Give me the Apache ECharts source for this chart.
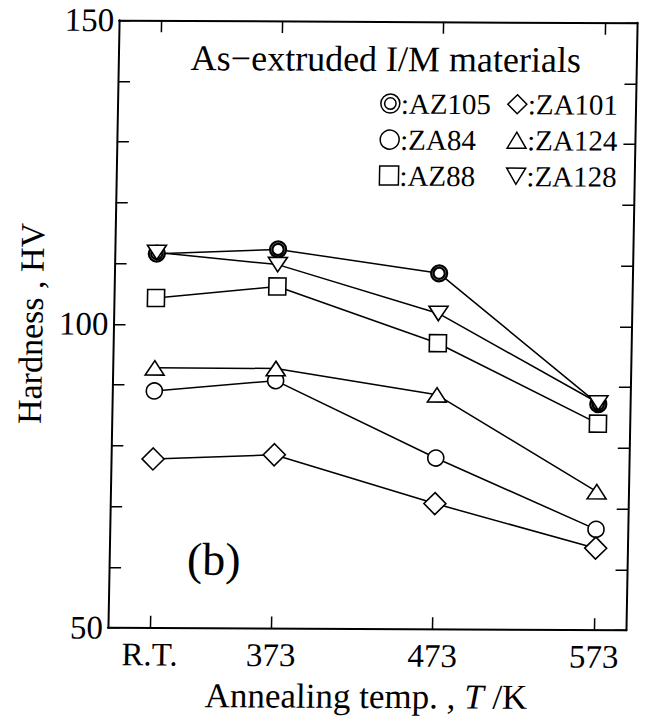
<!DOCTYPE html>
<html>
<head>
<meta charset="utf-8">
<script src="https://cdn.jsdelivr.net/npm/echarts@6/dist/echarts.min.js"></script>
<style>
  html, body { margin: 0; padding: 0; background: #fff; }
  #chart { width: 645px; height: 719px; transform: skew(-1.05deg, 0.3deg); transform-origin: 373px 327px; }
</style>
</head>
<body>
<div id="chart"></div>
<script>
// ---- data ----
const tempValues = [298, 373, 473, 573];
const tickLabels = ['R.T.', '373', '473', '573'];
const yLabelValues = [50, 100, 150];
const AZ105 = [111.6, 112.4, 108.6, 87.2];
const ZA84  = [89.0, 90.8, 78.2, 66.6];
const AZ88  = [104.3, 106.3, 97.1, 84.0];
const ZA101 = [77.8, 78.6, 70.7, 63.5];
const ZA124 = [92.8, 92.8, 88.6, 72.8];
const ZA128 = [111.8, 109.9, 102.0, 87.4];

const FONT = '"Liberation Serif", "Times New Roman", serif';
const pair = (arr) => tempValues.map((t, i) => [t, arr[i]]);

const SYM = {
  AZ105: {symbol: 'path://M0,-10A10,10 0 1 1 0,10A10,10 0 1 1 0,-10ZM0,-7A7,7 0 1 1 0,7A7,7 0 1 1 0,-7Z', size: 16},
  ZA84:  {symbol: 'circle', size: 16},
  AZ88:  {symbol: 'rect', size: 17},
  ZA101: {symbol: 'diamond', size: 22},
  ZA124: {symbol: 'path://M0,0L10,-17L20,0Z', size: [19, 17]},
  ZA128: {symbol: 'path://M0,0L20,0L10,17Z', size: [19, 17]}
};
const LEG_ICON = {
  AZ105: 'path://M0,-10A10,10 0 1 1 0,10A10,10 0 1 1 0,-10ZM0,-6A6,6 0 1 1 0,6A6,6 0 1 1 0,-6Z',
  ZA84: 'circle', AZ88: 'rect', ZA101: 'diamond',
  ZA124: 'path://M0,0L10,-17L20,0Z', ZA128: 'path://M0,0L20,0L10,17Z'
};
const seriesData = {AZ105, ZA84, AZ88, ZA101, ZA124, ZA128};
const drawOrder = ['AZ105', 'ZA128', 'AZ88', 'ZA84', 'ZA124', 'ZA101'];

const series = drawOrder.map(name => ({
  name,
  type: 'line',
  data: pair(seriesData[name]),
  symbol: SYM[name].symbol,
  symbolSize: SYM[name].size,
  symbolKeepAspect: true,
  showAllSymbol: true,
  lineStyle: {color: '#000', width: 1.5},
  itemStyle: {color: '#fff', borderColor: '#000', borderWidth: name === 'AZ105' ? 2.2 : 1.6},
  emphasis: {disabled: true},
  xAxisIndex: 0, yAxisIndex: 0
}));

const legendCommon = {
  orient: 'vertical',
  itemWidth: 19, itemHeight: 19, itemGap: 7,
  selectedMode: false,
  formatter: n => ':' + n,
  textStyle: {fontFamily: FONT, fontSize: 29, color: '#000', lineHeight: 28, padding: [0, 0, 0, -4]},
  itemStyle: {color: '#fff', borderColor: '#000', borderWidth: 1.5},
  padding: 0
};
const legendItem = n => ({name: n, icon: LEG_ICON[n]});

const axisLineStyle = {show: true, lineStyle: {color: '#000', width: 2}};
const option = {
  backgroundColor: '#fff',
  animation: false,
  grid: {left: 113.5, right: 13, top: 21.5, bottom: 86.5},
  legend: [
    Object.assign({}, legendCommon, {left: 376, top: 89, data: ['AZ105', 'ZA84', 'AZ88'].map(legendItem)}),
    Object.assign({}, legendCommon, {left: 503, top: 89, data: ['ZA101', 'ZA124', 'ZA128'].map(legendItem)})
  ],
  xAxis: [
    {
      type: 'value', min: 272, max: 593, position: 'bottom',
      name: 'Annealing temp. , {i|T} /K', nameLocation: 'middle', nameGap: 50,
      nameTextStyle: {fontFamily: FONT, fontSize: 35, color: '#000',
        rich: {i: {fontFamily: FONT, fontSize: 35, fontStyle: 'italic', color: '#000'}}},
      axisLine: axisLineStyle,
      axisTick: {show: true, inside: true, length: 12, customValues: tempValues, lineStyle: {color: '#000', width: 1.5}},
      axisLabel: {show: true, customValues: tempValues, margin: 10, fontFamily: FONT, fontSize: 33, color: '#000',
        formatter: v => tickLabels[tempValues.indexOf(v)]},
      splitLine: {show: false}
    },
    {
      type: 'value', min: 272, max: 593, position: 'top',
      axisLine: axisLineStyle,
      axisTick: {show: true, inside: true, length: 12, customValues: tempValues, lineStyle: {color: '#000', width: 1.5}},
      axisLabel: {show: false},
      splitLine: {show: false}
    }
  ],
  yAxis: [
    {
      type: 'value', min: 50, max: 150, interval: 10, position: 'left',
      name: 'Hardness , HV', nameLocation: 'middle', nameGap: 63, nameRotate: 90,
      nameTextStyle: {fontFamily: FONT, fontSize: 34, color: '#000'},
      axisLine: axisLineStyle,
      axisTick: {show: true, inside: true, length: 12, lineStyle: {color: '#000', width: 1.5}},
      axisLabel: {show: true, customValues: yLabelValues, margin: 5, fontFamily: FONT, fontSize: 33, color: '#000'},
      splitLine: {show: false}
    },
    {
      type: 'value', min: 50, max: 150, interval: 10, position: 'right',
      axisLine: axisLineStyle,
      axisTick: {show: true, inside: true, length: 12, lineStyle: {color: '#000', width: 1.5}},
      axisLabel: {show: false},
      splitLine: {show: false}
    }
  ],
  graphic: [
    {type: 'text', x: 381, y: 59, style: {text: 'As\u2212extruded I/M materials', fontFamily: FONT, fontSize: 36, fill: '#000', align: 'center', verticalAlign: 'middle'}},
    {type: 'text', x: 218, y: 560, style: {text: '(b)', fontFamily: FONT, fontSize: 46, fill: '#000', align: 'center', verticalAlign: 'middle'}}
  ],
  series
};

const chart = echarts.init(document.getElementById('chart'), null, {renderer: 'svg'});
chart.setOption(option);
</script>
</body>
</html>
